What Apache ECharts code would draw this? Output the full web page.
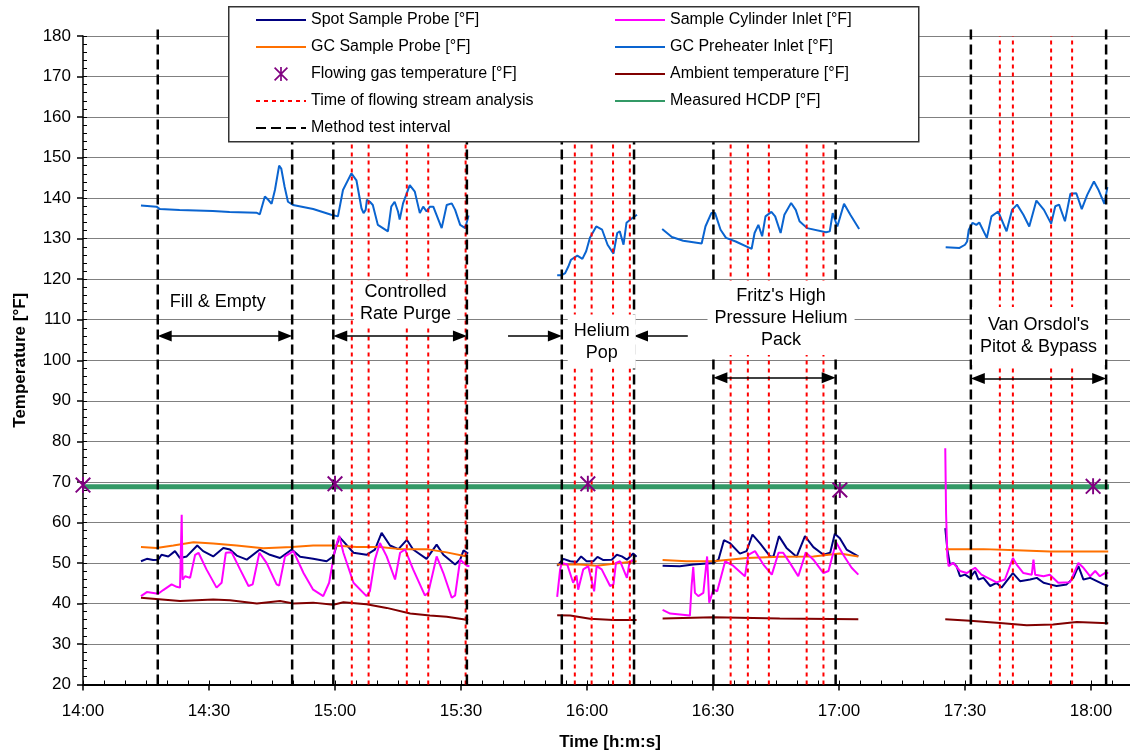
<!DOCTYPE html>
<html><head><meta charset="utf-8">
<script src="https://cdn.jsdelivr.net/npm/echarts/dist/echarts.min.js"></script>
<style>html,body{margin:0;padding:0;background:#fff}#c{width:1130px;height:753px}</style>
</head><body><div id="c"></div>
<script>
// time values: minutes after 14:00
const X_TICK_MIN = 0, X_TICK_MAX = 270, X_TICK_STEP = 30;
const Y_MIN = 20, Y_MAX = 180, Y_STEP = 10;

const SPOT_A = [[13.8,50.4],[15.2,51.0],[16.7,50.7],[17.9,50.8],[18.7,52.0],[20.3,51.6],[21.9,52.9],[23.1,51.2],[24.7,51.6],[27.2,54.3],[28.6,52.9],[31.0,51.6],[33.4,53.7],[35.0,53.3],[36.6,51.8],[39.0,50.8],[42.1,53.3],[44.5,52.0],[46.9,51.2],[49.7,53.3],[51.7,51.5],[54.8,51.0],[58.0,50.4],[59.6,51.6],[61.0,56.4],[62.0,55.3],[64.4,52.5],[67.5,52.0],[69.5,53.3],[71.1,57.4],[73.1,54.3],[75.1,53.4],[77.1,55.7],[78.6,53.3],[81.8,51.0],[84.2,54.5],[85.8,52.0],[88.6,49.6],[89.8,50.8],[90.6,53.1],[91.7,52.3]];
const SPOT_B = [[112.9,49.3],[114.4,51.0],[116.0,50.4],[117.5,50.2],[118.6,51.6],[119.9,50.4],[121.5,50.4],[122.5,51.5],[123.9,50.7],[125.9,50.8],[127.1,52.0],[128.3,51.6],[129.5,50.8],[131.0,52.3],[131.8,51.5]];
const SPOT_C = [[138.0,49.3],[142.1,49.2],[145.3,49.6],[150.1,50.0],[151.3,50.8],[152.6,55.6],[154.0,54.9],[156.4,52.3],[158.0,52.9],[159.4,57.0],[161.2,54.8],[163.6,51.6],[164.4,51.6],[165.7,56.6],[167.5,53.7],[169.9,51.5],[171.9,56.6],[173.9,53.9],[176.3,52.0],[177.9,52.5],[179.0,57.2],[180.2,56.1],[181.8,53.3],[184.6,51.6]];
const SPOT_D = [[205.3,58.6],[205.8,53.3],[206.4,49.6],[207.2,50.0],[208.0,49.2],[208.8,46.7],[210.0,47.1],[211.2,46.3],[212.4,48.0],[213.2,45.9],[214.4,46.3],[216.0,44.3],[217.5,45.1],[218.7,43.9],[219.9,45.5],[221.4,47.5],[223.1,45.5],[225.5,45.9],[227.1,46.3],[228.7,45.1],[230.2,44.7],[231.8,44.3],[234.2,44.7],[235.8,46.3],[237.0,49.2],[238.2,45.9],[239.8,46.3],[241.4,45.5],[243.0,44.7],[244.1,44.3]];

const GC_A = [[13.8,53.9],[17.5,53.7],[21.5,54.3],[26.3,55.1],[31.0,54.8],[36.6,54.3],[42.9,53.6],[49.7,53.9],[54.8,54.3],[59.6,54.3],[65.2,53.9],[70.7,53.9],[75.5,53.4],[81.8,53.4],[86.6,52.6],[91.4,51.6]];
const GC_B = [[112.9,49.6],[118.3,49.6],[122.3,49.3],[127.9,50.0],[131.8,50.4]];
const GC_C = [[138.0,50.7],[143.7,50.4],[150.1,50.4],[158.0,51.2],[165.9,51.5],[173.9,51.6],[180.2,52.3],[184.6,51.6]];
const GC_D = [[205.3,53.4],[214.4,53.4],[222.3,53.1],[230.2,52.8],[244.1,52.8]];

const CYL_A = [[13.8,41.8],[15.2,42.8],[17.9,42.4],[19.1,43.3],[21.1,44.7],[22.3,44.1],[23.1,43.9],[23.5,61.9],[23.7,45.9],[24.3,46.7],[25.5,46.3],[26.7,52.0],[27.5,52.5],[29.4,48.4],[31.8,43.9],[33.0,45.1],[34.0,52.5],[35.4,52.6],[37.4,48.4],[39.4,44.3],[40.4,44.7],[42.0,52.5],[43.7,50.0],[46.1,44.7],[46.7,44.4],[48.1,51.6],[50.1,52.9],[52.5,47.5],[54.8,43.4],[57.2,41.8],[58.6,45.1],[60.0,53.3],[61.0,56.7],[62.0,52.5],[64.4,45.1],[67.5,41.8],[68.3,43.0],[69.5,50.8],[70.7,54.9],[72.3,51.6],[74.3,45.9],[75.5,52.5],[76.7,53.3],[78.6,48.4],[81.4,42.0],[82.2,42.6],[84.2,51.6],[85.8,47.5],[87.8,41.4],[88.6,42.0],[89.8,50.8],[91.4,49.3],[92.0,49.2]];
const CYL_B = [[112.9,41.6],[113.6,48.4],[114.0,50.0],[115.3,49.6],[116.7,45.1],[117.5,46.9],[117.9,43.4],[119.1,48.4],[120.3,49.2],[121.7,43.0],[122.3,49.2],[123.5,48.4],[125.5,44.3],[126.3,44.7],[126.9,50.0],[127.9,50.4],[129.5,46.3],[130.1,50.0],[130.9,50.8]];
const CYL_C = [[138.0,38.4],[139.8,37.5],[144.5,37.0],[144.9,44.3],[145.3,49.0],[145.7,42.6],[146.5,41.8],[147.7,42.6],[148.6,51.6],[149.1,40.2],[150.1,43.4],[151.0,43.0],[152.9,50.4],[154.8,49.3],[157.6,46.7],[158.4,52.0],[160.0,52.9],[162.0,49.6],[164.0,47.1],[165.6,52.5],[166.7,52.5],[168.3,50.0],[170.3,46.7],[172.1,52.6],[173.9,50.8],[176.3,47.5],[177.5,48.0],[179.3,55.1],[181.0,52.0],[183.0,48.8],[184.6,47.1]];
const CYL_D = [[205.3,78.3],[205.5,62.0],[205.8,51.6],[206.1,49.2],[207.2,50.0],[208.8,48.0],[210.4,47.5],[212.4,48.8],[213.9,47.1],[217.5,45.2],[219.5,45.9],[221.4,51.2],[222.3,49.6],[223.9,47.5],[225.9,47.1],[226.3,50.8],[226.7,47.1],[228.7,46.7],[230.2,47.1],[232.2,45.1],[235.0,45.2],[237.0,50.0],[238.2,48.8],[239.8,46.7],[241.0,48.0],[242.1,46.7],[243.3,47.5],[244.1,47.5]];

const PRE_A = [[13.8,138.2],[17.5,137.9],[18.3,137.3],[23.0,137.1],[30.9,136.8],[34.9,136.6],[41.3,136.4],[42.1,136.0],[43.3,140.4],[44.1,139.6],[44.9,138.6],[45.7,142.0],[46.7,148.0],[47.2,147.3],[48.0,142.8],[48.8,139.1],[50.0,138.3],[54.8,137.3],[59.1,135.9],[60.7,135.5],[61.9,142.0],[63.9,146.1],[65.1,144.4],[66.3,137.5],[66.8,136.3],[67.3,137.1],[67.6,139.6],[68.3,139.1],[69.0,138.3],[70.2,133.4],[72.6,131.8],[73.4,137.9],[74.2,139.1],[75.0,136.7],[75.4,134.7],[76.2,138.7],[77.8,143.2],[79.0,141.6],[80.2,136.3],[81.0,137.9],[81.8,136.7],[82.6,137.9],[83.4,137.9],[85.4,132.6],[86.6,138.3],[87.8,138.7],[88.6,137.1],[89.8,133.4],[91.0,132.6],[91.8,135.7]];
const PRE_B = [[112.9,121.0],[114.0,121.0],[114.8,121.5],[115.5,123.0],[116.2,124.8],[117.7,125.8],[118.9,125.0],[119.8,126.9],[120.7,130.2],[122.2,133.0],[123.6,132.2],[124.9,128.5],[126.3,126.3],[127.2,131.4],[127.8,131.8],[128.7,128.5],[129.4,133.9],[130.8,135.1],[131.9,135.9]];
const PRE_C = [[137.9,132.4],[140.2,130.4],[142.9,129.5],[147.3,128.8],[148.2,133.0],[149.6,136.3],[150.5,136.3],[151.8,132.2],[153.1,130.2],[155.4,129.3],[159.2,127.5],[159.9,131.4],[160.8,133.4],[161.7,130.6],[162.5,135.5],[163.9,136.6],[164.8,135.5],[166.1,131.4],[167.0,135.9],[168.6,138.8],[169.7,137.1],[170.6,134.3],[172.4,132.6],[176.9,131.6],[177.8,131.8],[178.5,136.3],[179.6,133.0],[181.2,138.6],[182.7,135.9],[184.8,132.4]];
const PRE_D = [[205.4,127.9],[208.7,127.7],[210.0,128.5],[210.5,129.3],[210.9,132.2],[211.8,133.9],[212.7,133.4],[213.4,134.0],[215.2,130.2],[216.3,135.5],[217.9,136.7],[219.9,131.8],[221.2,137.1],[222.4,138.4],[223.9,135.9],[225.3,133.0],[227.0,139.4],[228.8,137.1],[230.5,133.7],[231.5,138.0],[232.4,138.4],[233.8,134.3],[235.1,141.1],[236.5,141.2],[237.8,137.3],[239.1,140.8],[240.7,144.1],[241.8,142.0],[243.2,138.6],[243.9,142.7]];

const AMB_A = [[13.8,41.4],[23.1,40.6],[31.0,41.0],[35.0,40.8],[41.4,40.0],[46.9,40.6],[50.1,40.0],[54.8,40.2],[59.6,39.7],[62.0,40.3],[67.5,39.8],[72.3,38.9],[77.9,37.5],[82.6,37.0],[86.6,36.7],[91.7,35.9]];
const AMB_B = [[112.9,37.1],[116.0,37.0],[120.7,36.2],[126.3,35.9],[131.8,35.9]];
const AMB_C = [[138.0,36.3],[150.1,36.6],[165.9,36.3],[184.6,36.1]];
const AMB_D = [[205.3,36.1],[211.2,35.7],[218.3,35.2],[224.7,34.6],[231.0,34.8],[236.6,35.4],[244.1,35.1]];

const HCDP = [[0,68.8],[244.3,68.8]];
const FLOWING = [[0,69.2],[60,69.5],[120.2,69.5],[180.2,68.0],[240.5,68.9]];
const METHOD_TIMES = [17.8,49.8,59.6,91.4,114.0,131.2,150.1,179.2,211.4,243.6];
const ANALYSIS_TIMES = [64.0,68.0,77.1,82.2,91.1,117.1,121.1,126.2,130.2,154.2,158.3,163.3,172.3,176.3,218.3,221.4,230.5,235.5];

const ANNOT_TEXT = ['Fill & Empty','Controlled\nRate Purge','Helium\nPop',"Fritz's High\nPressure Helium\nPack","Van Orsdol's\nPitot & Bypass"];
const ANNOT_POS = [[32.1,114.4],[76.8,114.0],[123.5,104.6],[166.2,110.4],[227.5,106.0]];
// arrow tips: [from, to, y, startSymbol, endSymbol]
const ARROWS = [[17.8,49.8,106.0,'triangle','triangle'],[59.6,91.4,106.0,'triangle','triangle'],[101.2,114.0,106.0,'none','triangle'],[144.0,131.2,106.0,'none','triangle'],[150.1,179.2,95.7,'triangle','triangle'],[211.4,243.6,95.5,'triangle','triangle']];

const N_SPOT='Spot Sample Probe [°F]', N_GC='GC Sample Probe [°F]', N_FLOW='Flowing gas temperature [°F]', N_ANA='Time of flowing stream analysis', N_MET='Method test interval';
const N_CYL='Sample Cylinder Inlet [°F]', N_PRE='GC Preheater Inlet [°F]', N_AMB='Ambient temperature [°F]', N_HCDP='Measured HCDP [°F]';

const FONT = "'Liberation Sans', Arial, sans-serif";
const STAR = 'path://M8.8,0L11.2,0L11.2,20L8.8,20Z M0,1.7L1.7,0L20,18.3L18.3,20Z M18.3,0L20,1.7L1.7,20L0,18.3Z';

const fmt = m => { const h = 14 + Math.floor(m/60); const mm = Math.round(m%60); return h + ':' + (mm<10?'0':'') + mm; };

const series = [];
function lineSeg(name, color, data, width, z) {
  series.push({type:'line', name, data, symbol:'none', showSymbol:false, animation:false, silent:true,
    lineStyle:{color, width}, itemStyle:{color}, z: z||3});
}
lineSeg(N_HCDP, '#339966', HCDP, 5, 2);
[AMB_A,AMB_B,AMB_C,AMB_D].forEach(d => lineSeg(N_AMB, '#800000', d, 2));
[SPOT_A,SPOT_B,SPOT_C,SPOT_D].forEach(d => lineSeg(N_SPOT, '#000080', d, 2));
[GC_A,GC_B,GC_C,GC_D].forEach(d => lineSeg(N_GC, '#ff7000', d, 2));
[CYL_A,CYL_B,CYL_C,CYL_D].forEach(d => lineSeg(N_CYL, '#ff00ff', d, 2));
[PRE_A,PRE_B,PRE_C,PRE_D].forEach(d => lineSeg(N_PRE, '#0a64d0', d, 2));
series.push({type:'scatter', name:N_FLOW, data:FLOWING, symbol:STAR, symbolSize:16, itemStyle:{color:'#800080', opacity:1}, z:5, silent:true, animation:false});
ANALYSIS_TIMES.forEach(t => series.push({type:'line', name:N_ANA, data:[[t,Y_MIN],[t,Y_MAX]], symbol:'none', showSymbol:false, silent:true, animation:false,
  lineStyle:{color:'#ff0000', width:2, type:[4,4]}, itemStyle:{color:'#ff0000'}, z:4}));
METHOD_TIMES.forEach(t => series.push({type:'line', name:N_MET, data:[[t,Y_MIN],[t,181.7]], symbol:'none', showSymbol:false, silent:true, animation:false, clip:false,
  lineStyle:{color:'#000', width:2.5, type:[10,5]}, itemStyle:{color:'#000'}, z:4}));

// arrow heads are drawn centred on the line end: pull ends back by half a head length
const HEAD = 1.65;
const arrowData = ARROWS.map(a => {
  const dir = a[1] > a[0] ? 1 : -1;
  const s = a[3] === 'none' ? a[0] : a[0] + dir*HEAD;
  const e = a[4] === 'none' ? a[1] : a[1] - dir*HEAD;
  return [{coord:[s,a[2]], symbol:a[3]}, {coord:[e,a[2]], symbol:a[4]}];
});

const boxPad = [null,[1,6],[5,6],[4,7],[7,8]];
series.push({type:'scatter', name:'annotations', symbolSize:1, itemStyle:{color:'rgba(0,0,0,0)', opacity:1}, z:8, silent:true, animation:false,
  data: ANNOT_TEXT.map((s,i) => ({name:s, value:ANNOT_POS[i], label: boxPad[i] ? {backgroundColor:'#fff', padding:boxPad[i]} : {}})),
  label:{show:true, position:'inside', formatter:'{b}', fontSize:18, color:'#000', opacity:1, textBorderWidth:0, textBorderColor:'transparent', lineHeight:22, align:'center', fontFamily:FONT},
  markLine:{silent:true, animation:false, symbolSize:[11,14], label:{show:false}, lineStyle:{color:'#000', width:1.5, type:'solid', opacity:1},
    data: arrowData}
});

const legendBase = {orient:'vertical', itemWidth:50, itemHeight:14, itemGap:11, padding:0, selectedMode:false, z:20,
  textStyle:{fontSize:16, color:'#000', lineHeight:16, fontFamily:FONT}};
const lineItem = n => ({name:n, itemStyle:{opacity:0}});

const chart = echarts.init(document.getElementById('c'), null, {renderer:'canvas'});
chart.setOption({
  animation:false,
  backgroundColor:'#fff',
  textStyle:{fontFamily:FONT},
  grid:{left:83, top:36, bottom:68.5, right:-87, outerBoundsMode:'none', containLabel:false},
  legend:[Object.assign({data:[lineItem(N_SPOT),lineItem(N_GC),{name:N_FLOW, itemStyle:{opacity:1}},lineItem(N_ANA),lineItem(N_MET)], left:255, top:12}, legendBase),
          Object.assign({data:[lineItem(N_CYL),lineItem(N_PRE),lineItem(N_AMB),lineItem(N_HCDP)], left:614, top:12}, legendBase)],
  graphic:[{type:'rect', left:228, top:6, shape:{x:0,y:0,width:690,height:135}, style:{fill:'#fff', stroke:'#333', lineWidth:1.5}, z:15, silent:true}],
  xAxis:[
    {type:'value', min:X_TICK_MIN, max:X_TICK_MAX, interval:X_TICK_STEP, position:'bottom',
     axisLine:{onZero:false, lineStyle:{color:'#000', width:2}},
     axisTick:{inside:false, length:6, lineStyle:{color:'#000', width:1.5}},
     axisLabel:{formatter:fmt, fontSize:17, color:'#000', margin:18, fontFamily:FONT},
     splitLine:{show:false},
     name:'Time [h:m:s]', nameLocation:'middle', nameGap:49,
     nameTextStyle:{fontWeight:'bold', fontSize:17, color:'#000', fontFamily:FONT, padding:[0,80,0,0]}},
    {type:'value', min:X_TICK_MIN, max:X_TICK_MAX, interval:5, position:'bottom',
     axisLine:{show:false, onZero:false}, axisTick:{inside:true, length:4, lineStyle:{color:'#000'}},
     axisLabel:{show:false}, splitLine:{show:false}}
  ],
  yAxis:[
    {type:'value', min:Y_MIN, max:Y_MAX, interval:Y_STEP, position:'left',
     axisLine:{show:true, onZero:false, lineStyle:{color:'#000', width:1.5}},
     axisTick:{show:true, inside:false, length:6, lineStyle:{color:'#000', width:1.5}},
     axisLabel:{fontSize:17, color:'#000', margin:12, fontFamily:FONT},
     splitLine:{show:true, lineStyle:{color:'#808080', width:1}},
     name:'Temperature [°F]', nameLocation:'middle', nameGap:54, nameRotate:90,
     nameTextStyle:{fontWeight:'bold', fontSize:17, color:'#000', fontFamily:FONT}},
    {type:'value', min:Y_MIN, max:Y_MAX, interval:2, position:'left',
     axisLine:{show:false, onZero:false}, axisTick:{show:true, inside:true, length:4, lineStyle:{color:'#000'}},
     axisLabel:{show:false}, splitLine:{show:false}}
  ],
  series
});
</script></body></html>
